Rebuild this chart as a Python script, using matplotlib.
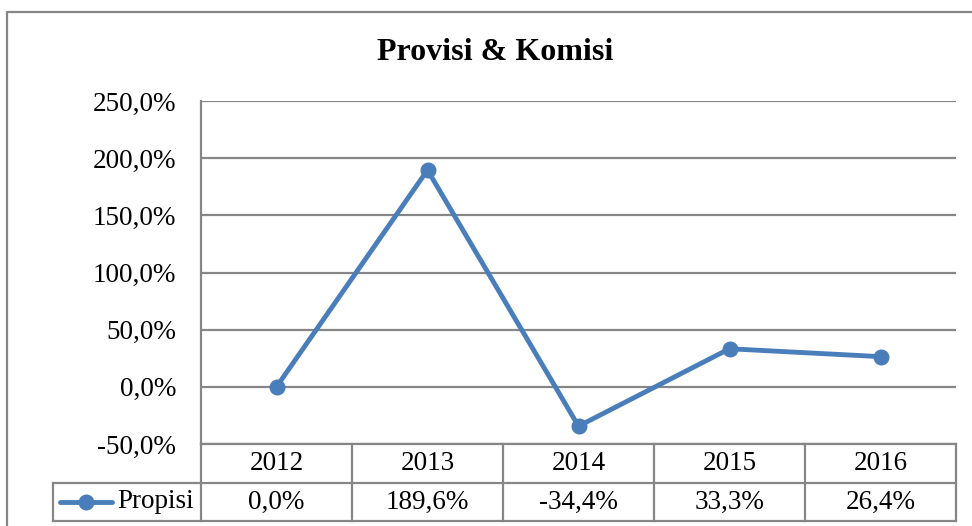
import matplotlib
matplotlib.use("Agg")
import matplotlib.pyplot as plt
import matplotlib.transforms as mtransforms
from matplotlib.lines import Line2D

# data
years = ["2012", "2013", "2014", "2015", "2016"]
propisi = [0.0, 189.6, -34.4, 33.3, 26.4]
series_name = "Propisi"
yticks = [-50, 0, 50, 100, 150, 200, 250]

W, H = 972, 526
line_col = "#4a7ebb"
grid_col = "#868686"
fs = 19.5
plt.rcParams["font.family"] = ["Liberation Serif", "DejaVu Serif"]

def fx(px):
    return px / W

def fy(py):
    return 1 - py / H

fig = plt.figure(figsize=(W / 100, H / 100), dpi=100)
ax = fig.add_axes([fx(201), fy(444), fx(956) - fx(201), fy(101) - fy(444)])

x = list(range(len(years)))
ax.plot(x, propisi, color=line_col, lw=3.5, marker="o", ms=10.5, zorder=3,
        solid_capstyle="round")
ax.set_xlim(-0.5, len(years) - 0.5)
ax.set_ylim(-50, 250)
ax.set_yticks(yticks)
ax.set_yticklabels([("%.1f%%" % v).replace(".", ",") for v in yticks], fontsize=fs)
ax.set_xticks([])
ax.tick_params(axis="y", length=0, pad=18)
ax.grid(axis="y", color=grid_col, lw=1.6)
for s in ["top", "right"]:
    ax.spines[s].set_visible(False)
for s in ["left", "bottom"]:
    ax.spines[s].set_color(grid_col)
    ax.spines[s].set_linewidth(1.6)

fig.text(fx(495), fy(53), "Provisi & Komisi", ha="center", va="center",
         fontsize=23, fontweight="bold")

# outer chart frame (cut off at right and bottom)
fig.add_artist(Line2D([fx(7), fx(7), 1.01], [-0.01, fy(12), fy(12)],
                      transform=fig.transFigure, color=grid_col, lw=1.6))

# data table under the plot
bt = mtransforms.blended_transform_factory(ax.transData, fig.transFigure)
y_mid, y_bot = fy(483), fy(521)
kw = dict(color=grid_col, lw=1.6)
fig.add_artist(Line2D([fx(53), fx(956)], [y_mid, y_mid], transform=fig.transFigure, **kw))
fig.add_artist(Line2D([fx(53), fx(956)], [y_bot, y_bot], transform=fig.transFigure, **kw))
fig.add_artist(Line2D([fx(53), fx(53)], [y_mid, y_bot], transform=fig.transFigure, **kw))
fig.add_artist(Line2D([fx(201), fx(201)], [fy(444), y_bot], transform=fig.transFigure, **kw))
for i in range(1, len(years) + 1):
    fig.add_artist(Line2D([i - 0.5, i - 0.5], [fy(444), y_bot], transform=bt, **kw))

for i, (yr, v) in enumerate(zip(years, propisi)):
    fig.text(i, fy(464), yr, transform=bt, ha="center", va="center", fontsize=fs)
    fig.text(i, fy(502), ("%.1f%%" % v).replace(".", ","), transform=bt,
             ha="center", va="center", fontsize=fs)

# legend key
fig.add_artist(Line2D([fx(60), fx(112)], [fy(502), fy(502)], transform=fig.transFigure,
                      color=line_col, lw=3.5, solid_capstyle="round"))
fig.add_artist(Line2D([fx(86)], [fy(502)], transform=fig.transFigure,
                      color=line_col, marker="o", ms=10.5, lw=0))
fig.text(fx(117), fy(502), series_name, ha="left", va="center", fontsize=fs)

fig.savefig("out.png", dpi=100)
